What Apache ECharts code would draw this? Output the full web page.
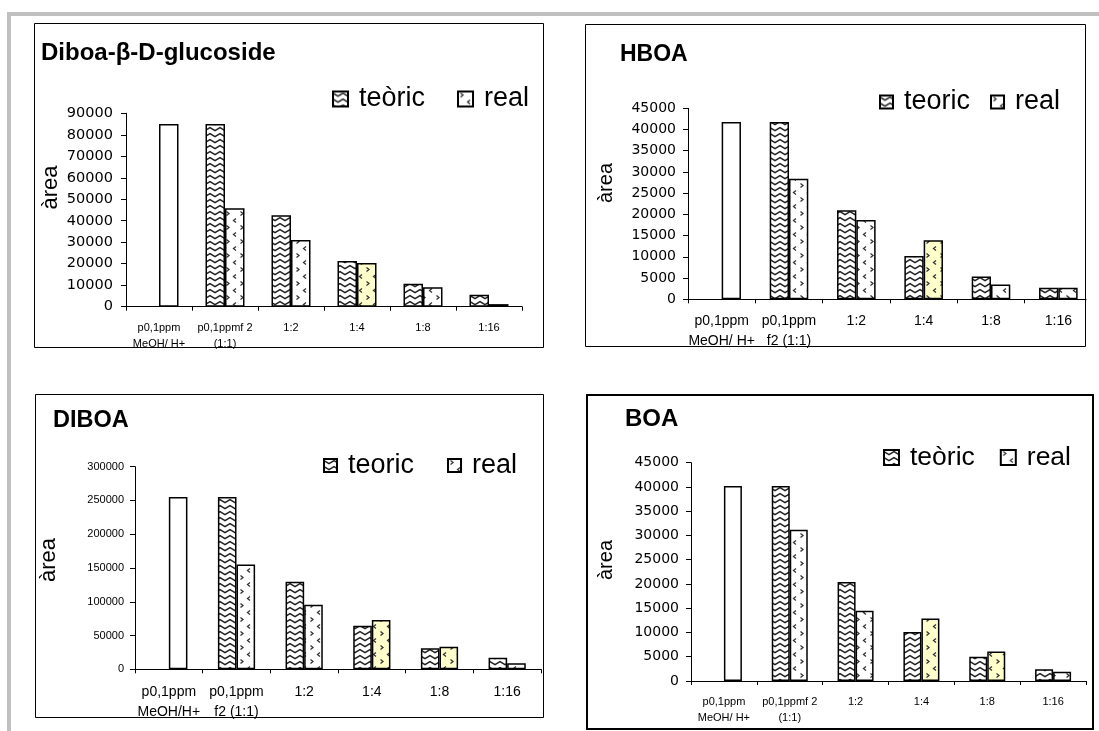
<!DOCTYPE html>
<html>
<head>
<meta charset="utf-8">
<script src="https://cdn.jsdelivr.net/npm/echarts@6/dist/echarts.min.js"></script>
<style>
html,body{margin:0;padding:0;background:#fff;}
#c{width:1099px;height:731px;}
</style>
</head>
<body>
<div id="c"></div>
<script>
// ---------- data ----------
const titles = ['Diboa-\u03B2-D-glucoside', 'HBOA', 'DIBOA', 'BOA'];
const legendNames = [['teòric', 'real'], ['teoric', 'real'], ['teoric', 'real'], ['teòric', 'real']];
const categories1 = ['p0,1ppm\nMeOH/ H+', 'p0,1ppmf 2\n(1:1)', '1:2', '1:4', '1:8', '1:16'];
const categories2 = ['p0,1ppm\nMeOH/ H+', 'p0,1ppm\nf2 (1:1)', '1:2', '1:4', '1:8', '1:16'];
const categories3 = ['p0,1ppm\nMeOH/H+', 'p0,1ppm\nf2 (1:1)', '1:2', '1:4', '1:8', '1:16'];
const categories4 = ['p0,1ppm\nMeOH/ H+', 'p0,1ppmf 2\n(1:1)', '1:2', '1:4', '1:8', '1:16'];

const teoric1 = [null, 85000, 42500, 21300, 10700, 5600];
const real1   = [85000, 45800, 31000, 20300, 9100, 1200];
const teoric2 = [null, 41800, 21000, 10200, 5400, 2700];
const real2   = [41800, 28400, 18700, 13900, 3500, 2700];
const teoric3 = [null, 255000, 129500, 64500, 31000, 17000];
const real3   = [255000, 155000, 95500, 73000, 33500, 8900];
const teoric4 = [null, 40200, 20400, 10100, 5000, 2400];
const real4   = [40200, 31200, 14500, 12900, 6100, 1900];

const yMax = [90000, 45000, 300000, 45000];
const yStep = [10000, 5000, 50000, 5000];

// which "real" points are drawn plain white / yellow
const plainIdx = [[0], [0], [0], [0]];
const yellowIdx = [[3], [3], [3, 4], [3, 4]];

// ---------- patterns ----------
function wave(bg) {
  const c = document.createElement('canvas'); c.width = 10; c.height = 6;
  const g = c.getContext('2d');
  g.fillStyle = bg; g.fillRect(0, 0, 10, 6);
  g.strokeStyle = '#222'; g.lineWidth = 1.4;
  g.beginPath(); g.moveTo(-1, 1); g.lineTo(5, 4.6); g.lineTo(11, 1); g.stroke();
  return { image: c, repeat: 'repeat' };
}
function dots(bg) {
  const c = document.createElement('canvas'); c.width = 14; c.height = 14;
  const g = c.getContext('2d');
  g.fillStyle = bg; g.fillRect(0, 0, 14, 14);
  g.strokeStyle = '#333'; g.lineWidth = 1.3;
  g.beginPath(); g.moveTo(2.5, 1.5); g.lineTo(5, 3.5); g.lineTo(2.5, 5.5); g.stroke();
  g.beginPath(); g.moveTo(12, 8.5); g.lineTo(9.5, 10.5); g.lineTo(12, 12.5); g.stroke();
  return { image: c, repeat: 'repeat' };
}
const wavePat = wave('#ffffff');
const dotPat = dots('#ffffff');
const dotYellow = dots('#FFFFCC');

// ---------- layout ----------
const L = [
  { grid: { left: 126, top: 113.3, width: 396, height: 193.4 }, barW: 19.5, xFont: 11, xLH: 15.7, xMargin: 13.5, yFont: 14.5, yFam: 'DejaVu Sans', yMargin: 13,
    title: { left: 41, top: 41.5, size: 24 }, legend: { left: 332, top: 85.5, gap: 32, size: 27, icon: 15 },
    name: { x: 50.6, y: 187.5, size: 22 }, box: [34.5, 23.5, 509, 324, 1] },
  { grid: { left: 688, top: 108.3, width: 404, height: 191 }, barW: 19.3, xFont: 14, xLH: 20.5, xMargin: 11.5, yFont: 14, yFam: 'DejaVu Sans', yMargin: 12,
    title: { left: 620, top: 43.5, size: 23 }, legend: { left: 879, top: 88.5, gap: 20, size: 27, icon: 13 },
    name: { x: 606.3, y: 183, size: 20 }, box: [585.5, 24.5, 500, 322, 1] },
  { grid: { left: 135, top: 466.7, width: 406, height: 202.6 }, barW: 18.6, xFont: 14, xLH: 20, xMargin: 12.4, yFont: 11, yFam: 'Arial', yMargin: 11,
    title: { left: 53, top: 408.5, size: 23.5 }, legend: { left: 323, top: 452, gap: 33, size: 27, icon: 13 },
    name: { x: 49.3, y: 560, size: 22 }, box: [35.5, 394.5, 508, 323, 1] },
  { grid: { left: 691, top: 462.7, width: 395, height: 218.3 }, barW: 18, xFont: 11, xLH: 16.6, xMargin: 12.4, yFont: 14, yFam: 'DejaVu Sans', yMargin: 12,
    title: { left: 625, top: 407, size: 24 }, legend: { left: 883, top: 444, gap: 25, size: 26.5, icon: 15 },
    name: { x: 606.3, y: 560, size: 20 }, box: [587, 395, 506, 334, 2] }
];

const cats = [categories1, categories2, categories3, categories4];
const teo = [teoric1, teoric2, teoric3, teoric4];
const rea = [real1, real2, real3, real4];

const option = {
  animation: false,
  backgroundColor: '#fff',
  title: [], legend: [], grid: [], xAxis: [], yAxis: [], series: [],
  graphic: []
};

// frame
option.graphic.push({ type: 'rect', shape: { x: 7, y: 12, width: 1092, height: 4 }, style: { fill: '#c0c0c0' }, z: 1 });
option.graphic.push({ type: 'rect', shape: { x: 7, y: 12, width: 4, height: 719 }, style: { fill: '#c0c0c0' }, z: 1 });

L.forEach((p, i) => {
  option.grid.push(Object.assign({ containLabel: false }, p.grid));
  option.title.push({
    text: titles[i], left: p.title.left, top: p.title.top, padding: 0,
    textStyle: { fontFamily: 'Arial', fontWeight: 'bold', fontSize: p.title.size, color: '#000' }
  });
  option.legend.push({
    data: legendNames[i], left: p.legend.left, top: p.legend.top, padding: 0,
    itemGap: p.legend.gap, itemWidth: p.legend.icon, itemHeight: p.legend.icon, icon: 'rect',
    selectedMode: false,
    textStyle: { fontFamily: 'Arial', fontSize: p.legend.size, color: '#000', padding: [0, 0, 0, 6] }
  });
  option.xAxis.push({
    type: 'category', gridIndex: i, data: cats[i],
    axisLine: { lineStyle: { color: '#000', width: 1 } },
    axisTick: { show: true, length: 4, lineStyle: { color: '#000' } },
    axisLabel: { interval: 0, fontFamily: 'Arial', fontSize: p.xFont, lineHeight: p.xLH, margin: p.xMargin, color: '#000' },
    splitLine: { show: false }
  });
  option.yAxis.push({
    type: 'value', gridIndex: i, min: 0, max: yMax[i], interval: yStep[i],
    axisLine: { show: true, lineStyle: { color: '#000', width: 1 } },
    axisTick: { show: true, length: 5, lineStyle: { color: '#000' } },
    axisLabel: { fontFamily: p.yFam, fontSize: p.yFont, margin: p.yMargin, color: '#000', formatter: v => String(v) },
    splitLine: { show: false }
  });
  const base = { type: 'bar', xAxisIndex: i, yAxisIndex: i, barWidth: p.barW, barGap: '0%' };
  option.series.push(Object.assign({}, base, {
    name: legendNames[i][0],
    itemStyle: { color: wavePat, borderColor: '#000', borderWidth: 1.5 },
    data: teo[i].map(v => v)
  }));
  option.series.push(Object.assign({}, base, {
    name: legendNames[i][1],
    itemStyle: { color: dotPat, borderColor: '#000', borderWidth: 1.5 },
    data: rea[i].map((v, k) => {
      if (plainIdx[i].includes(k)) return { value: v, itemStyle: { color: '#ffffff' } };
      if (yellowIdx[i].includes(k)) return { value: v, itemStyle: { color: dotYellow } };
      return v;
    })
  }));
  option.graphic.push({
    type: 'text', x: p.name.x, y: p.name.y, rotation: Math.PI / 2, z: 10,
    style: { text: 'àrea', font: p.name.size + 'px Arial', fill: '#000', align: 'center', verticalAlign: 'middle', textAlign: 'center', textVerticalAlign: 'middle' }
  });
  const b = p.box;
  option.graphic.push({ type: 'rect', z: 20, shape: { x: b[0], y: b[1], width: b[2], height: b[3] }, style: { fill: 'none', stroke: '#000', lineWidth: b[4] } });
});
// hide the part of the HBOA axis that runs past its frame
option.graphic.push({ type: 'rect', z: 15, shape: { x: 1086.5, y: 20, width: 13, height: 340 }, style: { fill: '#fff' } });

const chart = echarts.init(document.getElementById('c'), null, { renderer: 'canvas' });
chart.setOption(option);
</script>
</body>
</html>
